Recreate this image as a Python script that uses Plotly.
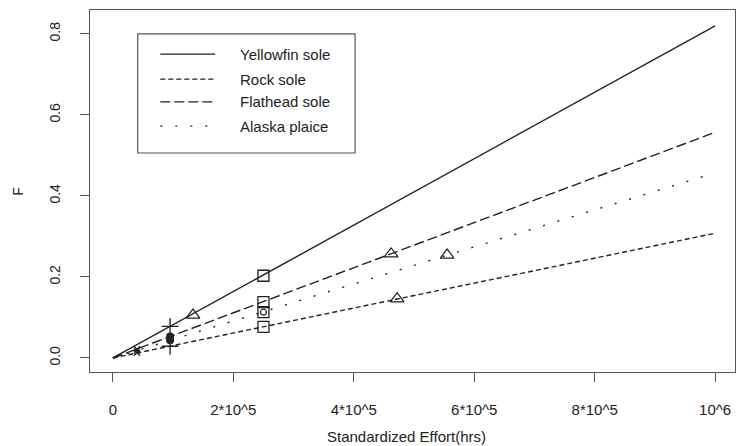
import plotly.graph_objects as go

# Fitted F vs effort lines (effort in hrs)
line_effort = [0, 1e6]
yellowfin_f = [0, 0.820]
rock_f = [0, 0.308]
flathead_f = [0, 0.557]
alaska_f = [0, 0.457]

# Observed points
square_effort = [2.5e5, 2.5e5, 2.5e5, 2.5e5]
square_f = [0.203, 0.077, 0.138, 0.113]
triangle_effort = [1.33e5, 4.72e5, 4.62e5, 5.55e5]
triangle_f = [0.106, 0.146, 0.257, 0.254]
cross_effort = [0.95e5, 0.95e5]
cross_f = [0.078, 0.029]
dot_effort = [0.95e5, 0.95e5]
dot_f = [0.053, 0.044]
small_effort = [0.40e5, 0.40e5, 0.40e5]
small_f = [0.013, 0.022, 0.018]

x_ticks = [0, 2e5, 4e5, 6e5, 8e5, 1e6]
x_tick_labels = ["0", "2*10^5", "4*10^5", "6*10^5", "8*10^5", "10^6"]
y_ticks = [0.0, 0.2, 0.4, 0.6, 0.8]
y_tick_labels = ["0.0", "0.2", "0.4", "0.6", "0.8"]

species = ["Yellowfin sole", "Rock sole", "Flathead sole", "Alaska plaice"]
species_f = [yellowfin_f, rock_f, flathead_f, alaska_f]
dashes = ["solid", "5px,3px", "10px,4px", "2px,13px"]

INK = "#222222"
FONT = "Liberation Sans, Arial, sans-serif"

fig = go.Figure()
for name, f, dash in zip(species, species_f, dashes):
    fig.add_trace(
        go.Scatter(
            x=line_effort,
            y=f,
            mode="lines",
            name=name,
            line=dict(color=INK, width=1.4, dash=dash),
            showlegend=False,
        )
    )

fig.add_trace(
    go.Scatter(
        x=square_effort, y=square_f, mode="markers", showlegend=False,
        marker=dict(symbol="square-open", size=11, color=INK, line=dict(width=1.3)),
    )
)
fig.add_trace(
    go.Scatter(
        x=square_effort[3:], y=square_f[3:], mode="markers", showlegend=False,
        marker=dict(symbol="circle-open", size=6, color=INK, line=dict(width=1.2)),
    )
)
fig.add_trace(
    go.Scatter(
        x=triangle_effort, y=triangle_f, mode="markers", showlegend=False,
        marker=dict(symbol="triangle-up-open", size=12, color=INK, line=dict(width=1.2)),
    )
)
fig.add_trace(
    go.Scatter(
        x=cross_effort, y=cross_f, mode="markers", showlegend=False,
        marker=dict(symbol="cross-thin-open", size=12, color=INK, line=dict(width=1.3)),
    )
)
fig.add_trace(
    go.Scatter(
        x=dot_effort, y=dot_f, mode="markers", showlegend=False,
        marker=dict(symbol="circle", size=8, color=INK),
    )
)
fig.add_trace(
    go.Scatter(
        x=small_effort, y=small_f, mode="markers", showlegend=False,
        marker=dict(symbol="x-thin-open", size=6, color=INK, line=dict(width=1.2)),
    )
)

# Hand-drawn legend box like the R original
fig.add_shape(
    type="rect", xref="paper", yref="paper",
    x0=0.074, x1=0.411, y0=0.605, y1=0.934,
    line=dict(color="#555555", width=1.2), fillcolor="white", layer="above",
)
legend_rows = [0.878, 0.809, 0.746, 0.679]
for name, dash, yy in zip(species, dashes, legend_rows):
    fig.add_shape(
        type="line", xref="paper", yref="paper",
        x0=0.109, x1=0.194, y0=yy, y1=yy,
        line=dict(color=INK, width=1.3, dash=dash), layer="above",
    )
    fig.add_annotation(
        xref="paper", yref="paper", x=0.229, y=yy, text=name,
        showarrow=False, xanchor="left", yanchor="middle",
        font=dict(family=FONT, size=15, color=INK),
    )

# Axis titles
fig.add_annotation(
    xref="paper", yref="paper", x=0.49, y=-0.177, text="Standardized Effort(hrs)",
    showarrow=False, xanchor="center", yanchor="middle",
    font=dict(family=FONT, size=15, color=INK),
)
fig.add_annotation(
    xref="paper", yref="paper", x=-0.112, y=0.5, text="F", textangle=-90,
    showarrow=False, xanchor="center", yanchor="middle",
    font=dict(family=FONT, size=14, color=INK),
)

fig.update_xaxes(
    range=[-0.038e6, 1.033e6],
    tickvals=x_ticks, ticktext=x_tick_labels,
    showgrid=False, zeroline=False,
    showline=True, mirror=True, linecolor="#555555", linewidth=1.3,
    ticks="outside", ticklen=9, tickcolor="#555555", tickwidth=1.3,
    ticklabelstandoff=15,
    tickfont=dict(family=FONT, size=15, color=INK),
)
fig.update_yaxes(
    range=[-0.0346, 0.859],
    tickvals=y_ticks, ticktext=y_tick_labels, tickangle=-90,
    showgrid=False, zeroline=False,
    showline=True, mirror=True, linecolor="#555555", linewidth=1.3,
    ticks="outside", ticklen=9, tickcolor="#555555", tickwidth=1.3,
    ticklabelstandoff=14,
    tickfont=dict(family=FONT, size=14, color=INK),
)
fig.update_layout(
    width=737, height=446,
    margin=dict(l=90, r=2, t=10, b=74),
    plot_bgcolor="white", paper_bgcolor="white",
    showlegend=False,
)

# drop the default page margin so the figure sits at the window's corner
fig.write_html(
    "out.html",
    config={"displayModeBar": False},
    post_script="document.body.style.margin='0';document.body.style.overflow='hidden';",
)
